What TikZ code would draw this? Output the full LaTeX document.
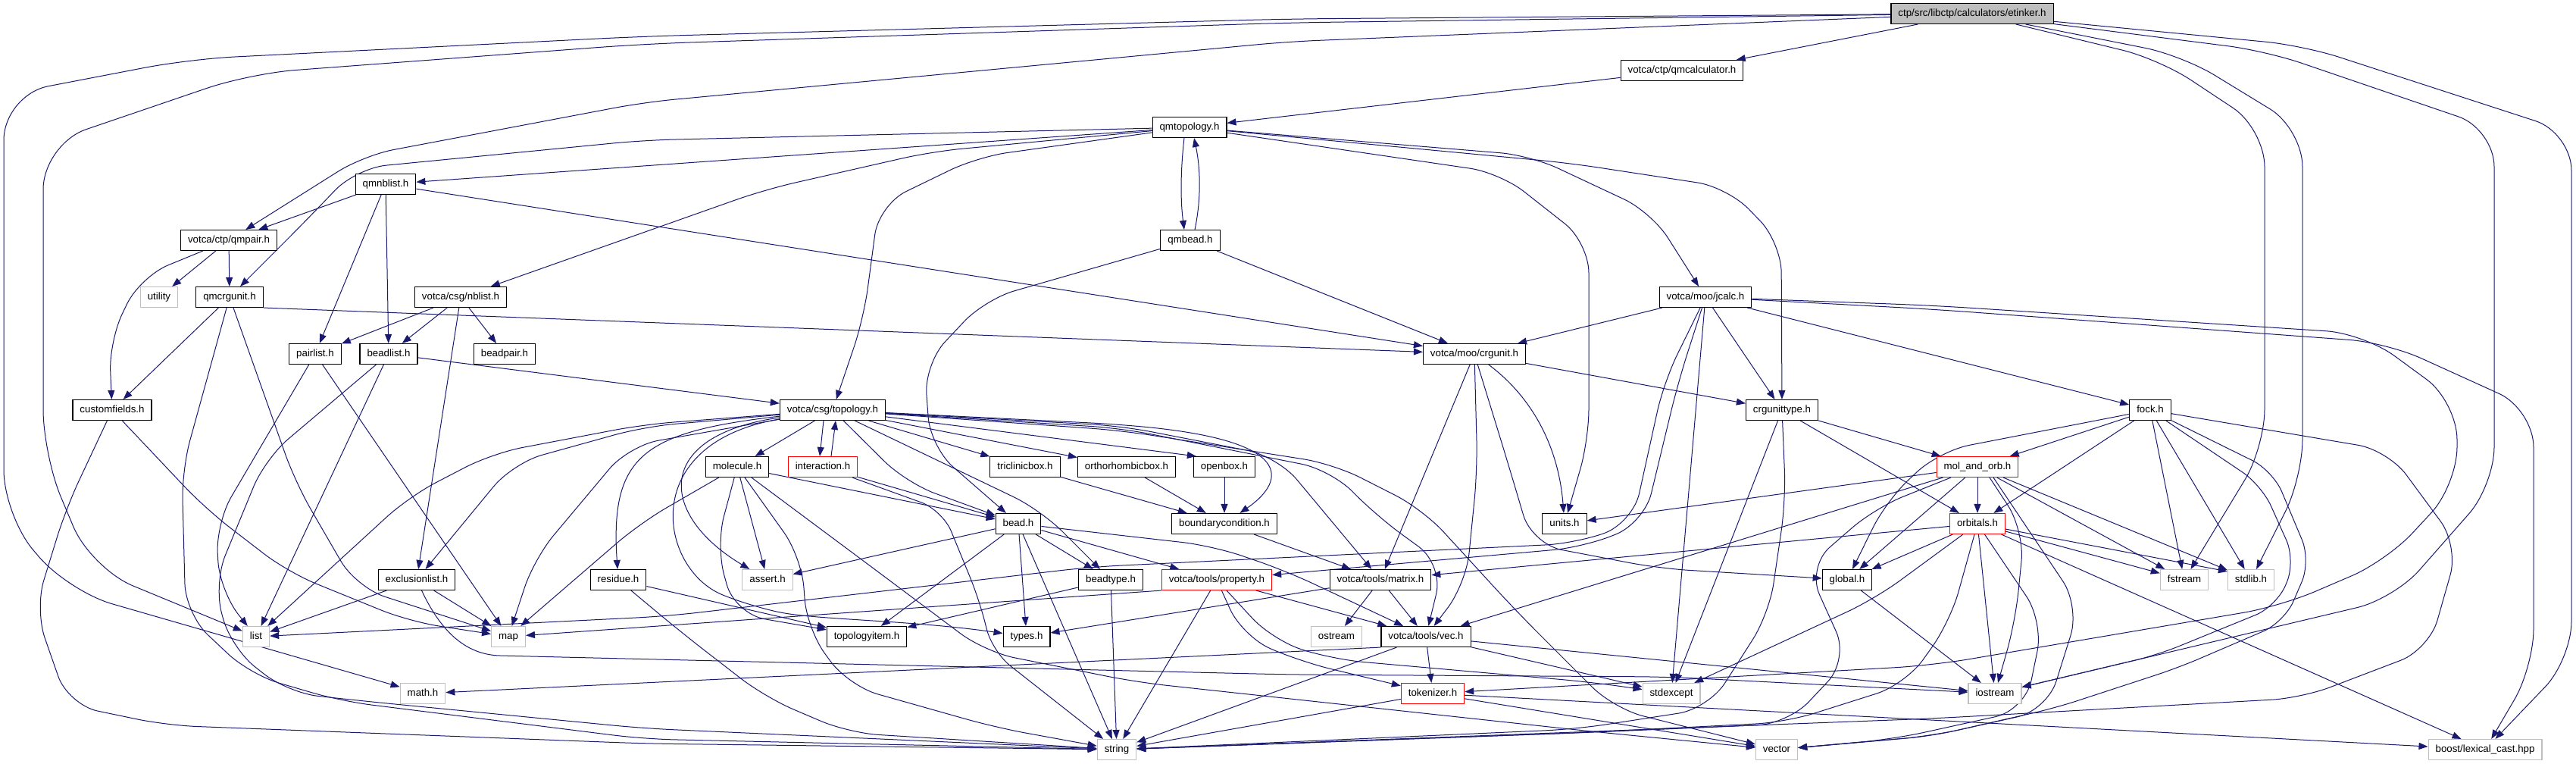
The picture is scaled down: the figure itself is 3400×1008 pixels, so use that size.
\documentclass[tikz,border=0pt]{standalone}
\usepackage{fontspec}
\setmainfont{Liberation Sans}
\usetikzlibrary{arrows.meta,backgrounds}
\definecolor{incblue}{RGB}{25,25,112}
\definecolor{sysgray}{RGB}{191,191,191}
\definecolor{cutred}{RGB}{255,0,0}

\begin{document}
\begin{tikzpicture}[x=1pt, y=-1pt,
  font=\fontsize{13.3}{16}\selectfont,
  hdr/.style={draw=black, fill=white, line width=1.1pt, inner xsep=9.5pt, inner ysep=0pt,
    minimum height=27pt, text height=9.8pt, text depth=2.8pt},
  syshdr/.style={hdr, draw=sysgray},
  cuthdr/.style={hdr, draw=cutred},
  roothdr/.style={hdr, fill=sysgray},
  incl/.style={draw=incblue, line width=1pt, rounded corners=40pt,
    -{Triangle[length=12pt, width=9pt]}}
]
\useasboundingbox (0,0) rectangle (3400,1008);
% ranks, top to bottom
\node[roothdr] (etinker) at (2603,18) {ctp/src/libctp/calculators/etinker.h};
\node[hdr] (qmcalc) at (2220,93) {votca/ctp/qmcalculator.h};
\node[hdr] (qmtopo) at (1570,168) {qmtopology.h};
\node[hdr] (qmnblist) at (509,243) {qmnblist.h};
\node[hdr] (qmpair) at (302,317) {votca/ctp/qmpair.h};
\node[hdr] (qmbead) at (1571,317) {qmbead.h};
\node[syshdr] (utility) at (210,392) {utility};
\node[hdr] (qmcrgunit) at (303,392) {qmcrgunit.h};
\node[hdr] (nblist) at (608,392) {votca/csg/nblist.h};
\node[hdr] (jcalc) at (2251,392) {votca/moo/jcalc.h};
\node[hdr] (pairlist) at (416,467) {pairlist.h};
\node[hdr] (beadlist) at (513,467) {beadlist.h};
\node[hdr] (beadpair) at (666,467) {beadpair.h};
\node[hdr] (crgunit) at (1946,467) {votca/moo/crgunit.h};
\node[hdr] (customfields) at (148,541) {customfields.h};
\node[hdr] (topology) at (1099,541) {votca/csg/topology.h};
\node[hdr] (crgunittype) at (2352,541) {crgunittype.h};
\node[hdr] (fock) at (2838,541) {fock.h};
\node[hdr] (molecule) at (973,616) {molecule.h};
\node[cuthdr] (interaction) at (1086,616) {interaction.h};
\node[hdr] (triclinic) at (1353,616) {triclinicbox.h};
\node[hdr] (ortho) at (1487,616) {orthorhombicbox.h};
\node[hdr] (openbox) at (1616,616) {openbox.h};
\node[cuthdr] (molandorb) at (2610,616) {mol\_and\_orb.h};
\node[hdr] (bead) at (1344,691) {bead.h};
\node[hdr] (bc) at (1616,691) {boundarycondition.h};
\node[hdr] (units) at (2065,691) {units.h};
\node[cuthdr] (orbitals) at (2610,691) {orbitals.h};
\node[hdr] (exclusionlist) at (550,765) {exclusionlist.h};
\node[hdr] (residue) at (816,765) {residue.h};
\node[syshdr] (assert) at (1013,765) {assert.h};
\node[hdr] (beadtype) at (1466,765) {beadtype.h};
\node[cuthdr] (property) at (1606,765) {votca/tools/property.h};
\node[hdr] (matrix) at (1822,765) {votca/tools/matrix.h};
\node[hdr] (global) at (2438,765) {global.h};
\node[syshdr] (fstream) at (2883,765) {fstream};
\node[syshdr] (stdlib) at (2971,765) {stdlib.h};
\node[syshdr] (list) at (338,840) {list};
\node[syshdr] (map) at (671,840) {map};
\node[hdr] (topologyitem) at (1144,840) {topologyitem.h};
\node[hdr] (types) at (1355,840) {types.h};
\node[syshdr] (ostream) at (1764,840) {ostream};
\node[hdr] (vec) at (1882,840) {votca/tools/vec.h};
\node[syshdr] (mathh) at (558,915) {math.h};
\node[cuthdr] (tokenizer) at (1891,915) {tokenizer.h};
\node[syshdr] (stdexcept) at (2206,915) {stdexcept};
\node[syshdr] (iostream) at (2633,915) {iostream};
\node[syshdr] (string) at (1474,989) {string};
\node[syshdr] (vector) at (2345,989) {vector};
\node[syshdr] (boost) at (3280,989) {boost/lexical\_cast.hpp};

\begin{scope}[on background layer]
% short includes
\foreach \a/\b in {etinker/qmcalc, qmcalc/qmtopo, qmtopo/qmnblist, qmnblist/qmpair,
  qmnblist/pairlist, qmnblist/beadlist, qmnblist/crgunit, qmpair/utility, qmpair/qmcrgunit,
  qmcrgunit/customfields, qmbead/crgunit, nblist/pairlist, nblist/beadlist, nblist/beadpair,
  nblist/exclusionlist, pairlist/map, beadlist/list, beadlist/topology, jcalc/crgunit,
  jcalc/crgunittype, jcalc/fock, jcalc/stdexcept, crgunit/crgunittype, crgunit/matrix,
  crgunittype/molandorb, crgunittype/orbitals, crgunittype/stdexcept, fock/molandorb,
  fock/orbitals, fock/fstream, fock/stdlib, molandorb/units, molandorb/vec, molandorb/global,
  molandorb/orbitals, molandorb/fstream, molandorb/stdlib, orbitals/matrix, orbitals/global,
  orbitals/iostream, orbitals/fstream, orbitals/boost, global/iostream, topology/molecule,
  topology/triclinic, topology/ortho, molecule/assert, molecule/bead, interaction/bead,
  bead/assert, bead/topologyitem, bead/types, bead/string, bead/beadtype, bead/property,
  triclinic/bc, ortho/bc, openbox/bc, bc/matrix, beadtype/topologyitem, beadtype/string,
  residue/topologyitem, exclusionlist/list, exclusionlist/map, property/string, property/vec,
  matrix/ostream, matrix/vec, matrix/types, vec/string, vec/tokenizer, vec/stdexcept,
  vec/iostream, tokenizer/string, tokenizer/vector, tokenizer/boost}
  \draw[incl] (\a) -- (\b);
\draw[incl] (qmcrgunit.south east) -- (crgunit);
\draw[incl] (vec.south west) -- (mathh);
\draw[incl] (topology) -- ([xshift=4pt]openbox.north west);
\draw[incl] (orbitals) -- ([yshift=-3pt]stdlib.north west);
\draw[incl] (property.south west) -- (map);

% etinker.h
\draw[incl] (etinker) -- (1700,55) -- (850,135) -- (480,205) -- (qmpair);
\draw[incl, rounded corners=60pt] (etinker) -- (1700,30) -- (850,58) -- (330,97) -- (57,190) -- (57,600) -- (120,750) -- (list);
\draw[incl, rounded corners=60pt] (etinker) -- (1700,25) -- (850,48) -- (250,78) -- (5,125) -- (5,680) -- (90,780) -- (mathh);
\draw[incl, rounded corners=50pt] (etinker) -- (2850,78) -- (2989,170) -- (2989,590) -- (fstream);
\draw[incl, rounded corners=50pt] (etinker) -- (2880,73) -- (3039,170) -- (3039,630) -- (stdlib);
\draw[incl, rounded corners=50pt] (etinker) -- (2990,67) -- (3292,170) -- (3292,640) -- (3160,790) -- (iostream);
\draw[incl, rounded corners=50pt] (etinker) -- (3040,60) -- (3394,175) -- (3394,870) -- (boost);

% qmtopology.h
\draw[incl] ([xshift=-7pt]qmtopo.south) .. controls (1558,225) and (1558,265) .. ([xshift=-8pt]qmbead.north);
\draw[incl] ([xshift=6pt]qmbead.north) .. controls (1585,265) and (1585,225) .. ([xshift=6pt]qmtopo.south);
\draw[incl] (qmtopo) -- (850,185) -- (470,222) -- (405,290) -- (qmcrgunit);
\draw[incl] (qmtopo) -- (1230,200) -- (1010,250) -- (nblist);
\draw[incl] (qmtopo) -- (1290,207) -- (1160,270) -- (1140,420) -- (topology);
\draw[incl] (qmtopo) -- (2020,205) -- (2180,280) -- (jcalc);
\draw[incl] (qmtopo) -- (1980,228) -- (2097,320) -- (2097,580) -- (units);
\draw[incl] (qmtopo) -- (2070,215) -- (2280,247) -- (2351,320) -- (crgunittype);
\draw[incl] (qmbead) -- (1300,395) -- (1220,480) -- (1228,590) -- (bead);
\draw[incl] (qmpair) -- (185,365) -- (144,450) -- (customfields);

% qmcrgunit.h, customfields.h, lists
\draw[incl] (qmcrgunit) -- (240,620) -- (245,810) -- (330,890) -- (450,925) -- (850,975) -- (string);
\draw[incl] (qmcrgunit) -- (390,637) -- (470,775) -- (map);
\draw[incl] (customfields) -- (271,671) -- (380,755) -- (540,820) -- (map);
\draw[incl] (customfields) -- (87,671) -- (46,804) -- (90,930) -- (220,957) -- (850,981) -- (string);
\draw[incl] (pairlist) -- (285,690) -- (290,780) -- (list);
\draw[incl] (beadlist) -- (350,605) -- (282,770) -- (305,855) -- (380,914) -- (480,925) -- (850,961) -- (string);

% jcalc.h
\draw[incl] (jcalc) -- (2196,504) -- (2155,690) -- (2080,717) -- (1440,748) -- (880,813) -- (list);
\draw[incl] (jcalc) -- (2215,504) -- (2170,690) -- (2090,722) -- (property);
\draw[incl, rounded corners=50pt] (jcalc) -- (2550,403) -- (3120,440) -- (3243,530) -- (3243,640) -- (3150,740) -- (3010,800) -- (2550,878) -- (tokenizer);
\draw[incl, rounded corners=50pt] (jcalc) -- (2550,408) -- (3150,452) -- (3344,540) -- (3344,880) -- (boost);

% crgunit.h, crgunittype.h
\draw[incl] (crgunit) .. controls (2030,530) and (2058,600) .. (units);
\draw[incl] (crgunit) -- (1950,620) -- (1935,770) -- (vec);
\draw[incl] (crgunit) -- (1990,610) -- (2022,718) -- (2190,750) -- (global);
\draw[incl] (crgunittype) -- (2357,660) -- (2335,810) -- (2255,935) -- (2080,962) -- (string);

% fock.h
\draw[incl] (fock) -- (2560,595) -- (2490,660) -- (global);
\draw[incl, rounded corners=30pt] (fock) -- (2985,640) -- (3030,740) -- (3005,800) -- (2848,864) -- (iostream);
\draw[incl, rounded corners=30pt] (fock) -- (3000,621) -- (3050,740) -- (3015,821) -- (2875,881) -- (2713,934) -- (2550,971) -- (vector);
\draw[incl] (fock) -- (3152,594) -- (3245,720) -- (3206,857) -- (3038,921) -- (2550,948) -- (string);

% mol_and_orb.h, orbitals.h
\draw[incl] (molandorb) -- (2475,670) -- (2385,748) -- (2440,870) -- (2360,955) -- (2080,967) -- (string);
\draw[incl] ([xshift=16pt]molandorb.south) -- (2672,700) -- (2660,820) -- (iostream);
\draw[incl] ([xshift=21pt]molandorb.south) -- (2745,800) -- (2702,937) -- (2550,971) -- (vector);
\draw[incl] (orbitals) -- (2475,790) -- (stdexcept);
\draw[incl] (orbitals) -- (2574,820) -- (2515,903) -- (2357,953) -- (2080,967) -- (string);
\draw[incl] (orbitals) -- (2697,820) -- (2673,937) -- (2500,975) -- (vector);

% topology.h
\draw[incl] ([xshift=-12pt]topology.south) -- ([xshift=-4pt]interaction.north);
\draw[incl] ([xshift=11pt]interaction.north) -- ([xshift=4pt]topology.south);
\draw[incl] (topology) -- (1480,560) .. controls (1720,585) and (1690,640) .. (bc);
\draw[incl] (topology) -- (1196,637) -- (bead);
\draw[incl] (topology) -- (1374,673) -- (beadtype);
\draw[incl] (topology) .. controls (860,575) and (870,680) .. (assert);
\draw[incl] (topology) .. controls (840,585) and (870,750) .. (990,800) .. controls (1080,818) and (1200,818) .. (types);
\draw[incl] (topology) -- (850,560) -- (650,598) -- (540,655) -- (list);
\draw[incl] (topology) -- (850,563) -- (677,611) -- (exclusionlist);
\draw[incl] (topology) -- (830,588) -- (705,737) -- (map);
\draw[incl] (topology) .. controls (850,570) and (805,600) .. (residue);
\draw[incl] (topology) -- (1480,562) -- (1686,602) -- (matrix);
\draw[incl] (topology) -- (1480,565) -- (1757,620) -- (1816,680) -- (1905,745) -- (vec);
\draw[incl] (topology) -- (1480,568) -- (1760,612) -- (1878,672) -- (2000,805) -- (2130,935) -- (vector);

% molecule.h, interaction.h, bead.h, residue.h
\draw[incl] (molecule) -- (845,690) -- (map);
\draw[incl] (molecule) -- (945,720) -- (970,810) -- (topologyitem);
\draw[incl] (molecule) -- (1058,735) -- (1065,830) -- (1120,905) -- (1315,960) -- (string);
\draw[incl] (molecule) -- (1157,753) -- (1300,860) -- (1500,900) -- (2100,965) -- (vector);
\draw[incl, rounded corners=30pt] (interaction) -- (1244,673) -- (1292,790) -- (1310,860) -- (string);
\draw[incl] (bead) -- (1600,720) -- (1697,753) -- (vec);
\draw[incl] (residue) -- (900,835) -- (1010,920) -- (1120,967) -- (string);

% exclusionlist.h, property.h
\draw[incl] (exclusionlist) .. controls (585,840) and (620,864) .. (700,866) -- (1700,890) -- (2200,893) -- (iostream);
\draw[incl] (property) -- (1640,840) -- (1717,873) -- (tokenizer);
\draw[incl] (property) -- (1680,845) -- (1760,870) -- (2100,900) -- (stdexcept);
\end{scope}
\end{tikzpicture}
\end{document}
